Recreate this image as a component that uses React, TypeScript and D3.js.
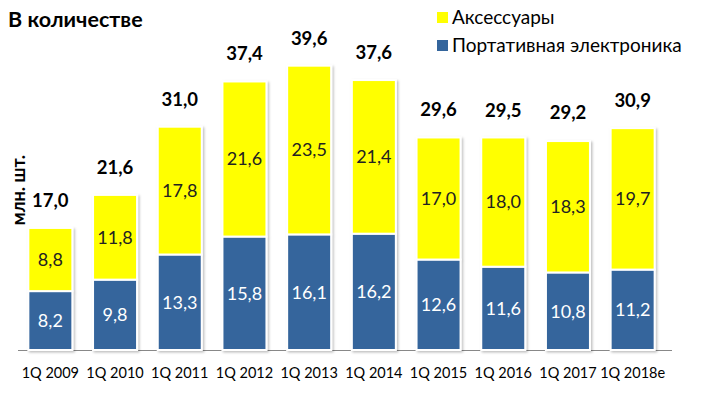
import React from "react";
import * as d3 from "d3";

const categories = ["1Q 2009", "1Q 2010", "1Q 2011", "1Q 2012", "1Q 2013", "1Q 2014", "1Q 2015", "1Q 2016", "1Q 2017", "1Q 2018e"];
const electronics = [8.2, 9.8, 13.3, 15.8, 16.1, 16.2, 12.6, 11.6, 10.8, 11.2];
const accessories = [8.8, 11.8, 17.8, 21.6, 23.5, 21.4, 17.0, 18.0, 18.3, 19.7];
const totals = [17.0, 21.6, 31.0, 37.4, 39.6, 37.6, 29.6, 29.5, 29.2, 30.9];

const W = 704;
const H = 399;
const FONT = "Lato, 'Open Sans', sans-serif";
const BLUE = "#34659c";
const YELLOW = "#ffff00";

const fmt = (v: number) => v.toFixed(1).replace(".", ",");

export default function App() {
  const x = d3.scaleBand<string>().domain(categories).range([18, 665]).paddingInner(0.32).paddingOuter(0.16);
  const y = d3.scaleLinear().domain([0, 40]).range([350, 350 - 40 * 7.18]);
  const bw = x.bandwidth();

  return (
    <svg width={W} height={H} style={{ position: "absolute", left: 0, top: 0, background: "#fff" }}>
      <defs>
        <filter id="sh" x="-20%" y="-20%" width="140%" height="140%">
          <feDropShadow dx="1.5" dy="1.5" stdDeviation="1.2" floodColor="#000" floodOpacity="0.25" />
        </filter>
      </defs>
      <text x={8} y={27} fontFamily={FONT} fontWeight="bold" fontSize={21.5} fill="#000">В количестве</text>

      <rect x={437} y={12} width={11} height={11} fill={YELLOW} />
      <text x={452} y={23.5} fontFamily={FONT} fontSize={19} fill="#000">Аксессуары</text>
      <rect x={437} y={40} width={11} height={11} fill={BLUE} />
      <text x={452} y={51.5} fontFamily={FONT} fontSize={19} fill="#000">Портативная электроника</text>

      <text transform="translate(25,190) rotate(-90)" textAnchor="middle" fontFamily={FONT} fontWeight="bold" fontSize={18} fill="#000">млн. шт.</text>

      <line x1={18} x2={672} y1={350.5} y2={350.5} stroke="#888" strokeWidth={1} />

      {categories.map((c, i) => {
        const x0 = x(c)!;
        const cx = x0 + bw / 2;
        const eTop = y(electronics[i]);
        const aTop = y(electronics[i] + accessories[i]);
        return (
          <g key={c}>
            <g filter="url(#sh)">
              <rect x={x0} y={eTop} width={bw} height={y(0) - eTop} fill={BLUE} stroke="#fff" strokeWidth={2} />
              <rect x={x0} y={aTop} width={bw} height={eTop - aTop} fill={YELLOW} stroke="#fff" strokeWidth={2} />
            </g>
            <text x={cx} y={(eTop + y(0)) / 2} dy="0.35em" textAnchor="middle" fontFamily={FONT} fontSize={18} fill="#fff">{fmt(electronics[i])}</text>
            <text x={cx} y={(aTop + eTop) / 2} dy="0.35em" textAnchor="middle" fontFamily={FONT} fontSize={18} fill="#222">{fmt(accessories[i])}</text>
            <text x={cx} y={y(totals[i]) - 21} textAnchor="middle" fontFamily={FONT} fontWeight="bold" fontSize={18.5} fill="#000">{fmt(totals[i])}</text>
            <text x={cx} y={378} textAnchor="middle" fontFamily={FONT} fontSize={14.5} fill="#000">{c}</text>
          </g>
        );
      })}
    </svg>
  );
}
